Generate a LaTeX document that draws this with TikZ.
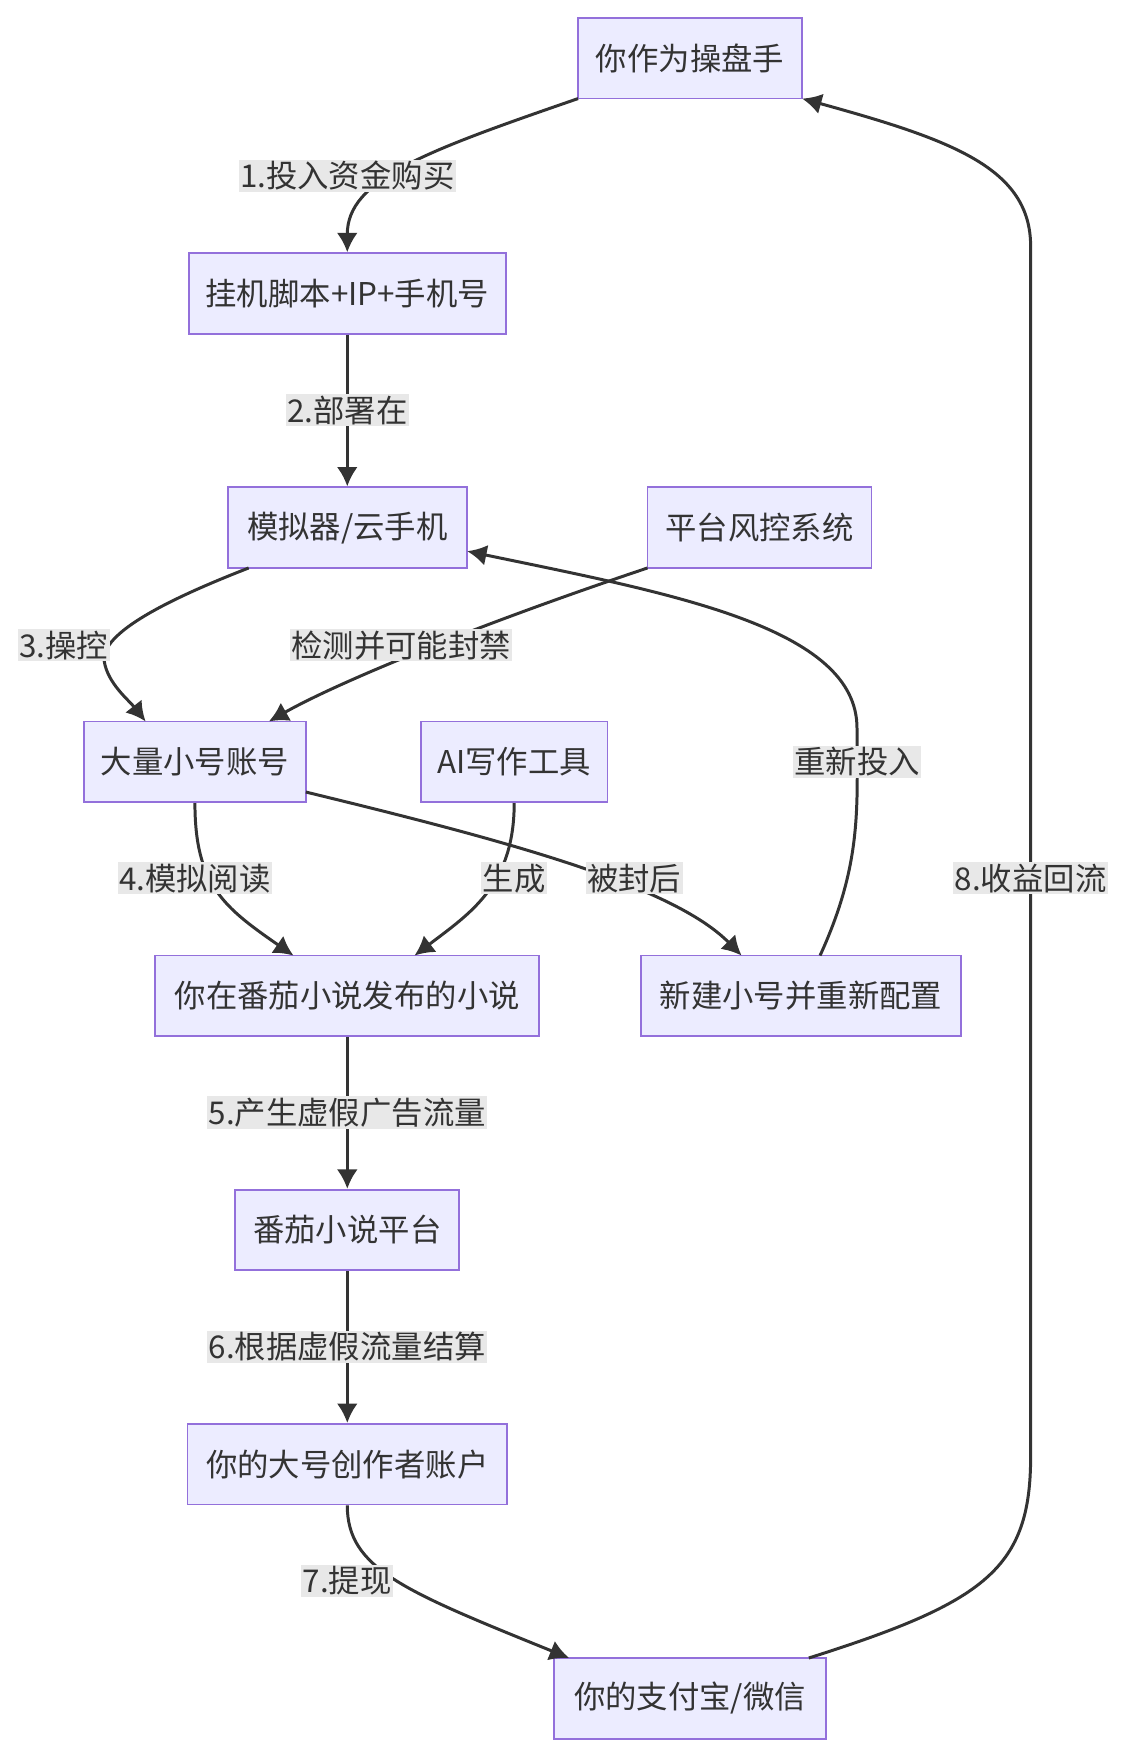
\documentclass[tikz,border=0pt]{standalone}
\usepackage{fontspec}
\setmainfont{Noto Sans CJK SC}
\usetikzlibrary{arrows.meta}
\definecolor{nfill}{HTML}{ECECFF}
\definecolor{ndraw}{HTML}{9370DB}
\definecolor{edge}{HTML}{333333}
\definecolor{lbg}{HTML}{E8E8E8}
\begin{document}
\begin{tikzpicture}[x=0.75pt,y=-0.75pt,
  box/.style={draw=ndraw,fill=nfill,line width=1.2pt,minimum height=54pt,inner xsep=0pt,font=\fontsize{21}{24}\selectfont,text=edge},
  lab/.style={fill=lbg,inner sep=1pt,font=\fontsize{21}{24}\selectfont,text=edge},
  arr/.style={draw=edge,line width=2pt,-{Latex[length=13pt,width=14pt]}}]
\useasboundingbox (0,0) rectangle (1000,1555);
\node[box,minimum width=150pt] (op) at (616,52) {你作为操盘手};
\node[box,minimum width=212pt] (script) at (310,262) {挂机脚本+IP+手机号};
\node[box,minimum width=160pt] (emu) at (310,471) {模拟器/云手机};
\node[box,minimum width=150pt] (risk) at (678,471) {平台风控系统};
\node[box,minimum width=149pt] (acc) at (174,680) {大量小号账号};
\node[box,minimum width=125pt] (ai) at (459,680) {AI写作工具};
\node[box,minimum width=257pt] (novel) at (310,889) {你在番茄小说发布的小说};
\node[box,minimum width=214pt] (newacc) at (715,889) {新建小号并重新配置};
\node[box,minimum width=150pt] (plat) at (310,1098) {番茄小说平台};
\node[box,minimum width=214pt] (big) at (310,1307) {你的大号创作者账户};
\node[box,minimum width=182pt] (pay) at (616,1516) {你的支付宝/微信};

\coordinate (o1) at (516,88);
\draw[arr] (o1) .. controls (380,135) and (310,160) .. (script.north);
\draw[arr] (script) -- (emu);
\coordinate (e1) at (222,507);
\draw[arr] (e1) .. controls (150,535) and (90,565) .. (93,590) .. controls (96,610) and (115,625) .. (130,644);
\coordinate (r1) at (578,507);
\draw[arr] (r1) .. controls (420,560) and (300,610) .. (240,644);
\draw[arr] (acc.south) .. controls (174,790) and (200,810) .. (262,853);
\draw[arr] (ai.south) .. controls (459,790) and (420,815) .. (370,853);
\coordinate (a1) at (273,707);
\draw[arr] (a1) .. controls (450,750) and (600,790) .. (662,853);
\coordinate (n1) at (732,853);
\draw[arr] (n1) .. controls (770,770) and (765,720) .. (765,650) .. controls (765,560) and (600,530) .. (417,492);
\draw[arr] (novel) -- (plat);
\draw[arr] (plat) -- (big);
\coordinate (p1) at (508,1480);
\draw[arr] (big.south) .. controls (310,1400) and (360,1420) .. (p1);
\coordinate (p2) at (722,1480);
\coordinate (o2) at (716,88);
\draw[arr] (p2) .. controls (880,1430) and (920,1400) .. (920,1300) -- (920,220) .. controls (920,150) and (850,125) .. (o2);

\node[lab] at (310,157) {1.投入资金购买};
\node[lab] at (310,366) {2.部署在};
\node[lab] at (57,576) {3.操控};
\node[lab] at (358,576) {检测并可能封禁};
\node[lab] at (174,784) {4.模拟阅读};
\node[lab] at (459,784) {生成};
\node[lab] at (566,784) {被封后};
\node[lab] at (765,680) {重新投入};
\node[lab] at (920,784) {8.收益回流};
\node[lab] at (310,993) {5.产生虚假广告流量};
\node[lab] at (310,1202) {6.根据虚假流量结算};
\node[lab] at (310,1411) {7.提现};
\end{tikzpicture}
\end{document}
